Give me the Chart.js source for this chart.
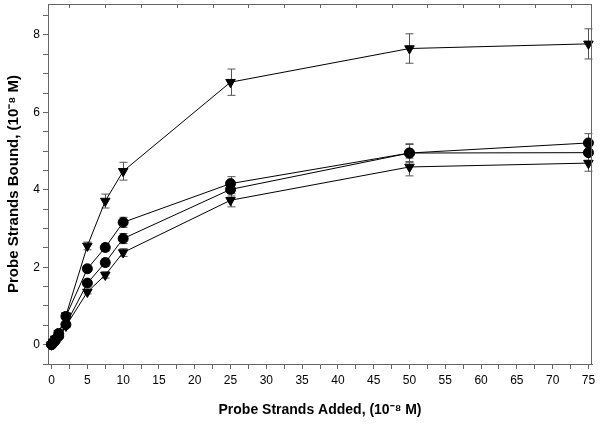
<!DOCTYPE html>
<html>
<head>
<meta charset="utf-8">
<script src="https://cdn.jsdelivr.net/npm/chart.js@4"></script>
<style>
  html, body { margin: 0; padding: 0; background: #fff; }
  #wrap { width: 600px; height: 427px; }
</style>
</head>
<body>
<div id="wrap"><canvas id="myChart" width="600" height="427"></canvas></div>
<script>
// probe strands added (10^-8 M)
var added = [0, 0.25, 0.5, 1, 2, 5, 7.5, 10, 25, 50, 75];

// probe strands bound, four curves
var triTop = [0, 0.07, 0.15, 0.3, 0.75, 2.55, 3.71, 4.48, 6.78, 7.65, 7.77];
var dotTop = [0, 0.06, 0.13, 0.29, 0.73, 1.96, 2.51, 3.16, 4.16, 4.95, 5.21];
var dotLow = [0, 0.05, 0.1, 0.22, 0.52, 1.59, 2.12, 2.74, 4.01, 4.95, 4.96];
var triLow = [0, 0.04, 0.09, 0.2, 0.48, 1.36, 1.80, 2.38, 3.73, 4.59, 4.69];

// error bars (+/-)
var triTopErr = [0, 0, 0, 0, 0.05, 0.1, 0.18, 0.23, 0.34, 0.38, 0.39];
var dotTopErr = [0, 0, 0, 0, 0.03, 0.06, 0.1, 0.13, 0.18, 0.24, 0.24];
var dotLowErr = [0, 0, 0, 0, 0.03, 0.06, 0.1, 0.13, 0.17, 0.22, 0.2];
var triLowErr = [0, 0, 0, 0, 0.03, 0.05, 0.08, 0.1, 0.17, 0.23, 0.21];

var topTicks = [2.5, 7.5, 12.5, 17.5, 22.5, 27.5, 32.5, 37.5, 42.5, 47.5, 52.5, 57.5, 62.5, 67.5, 72.5];

function pts(ys) {
  return added.map(function (x, i) { return { x: x, y: ys[i] }; });
}

function series(ys, errs, shape) {
  return {
    data: pts(ys),
    errs: errs,
    borderColor: '#000',
    borderWidth: 1,
    backgroundColor: '#000',
    pointBackgroundColor: '#000',
    pointBorderColor: '#000',
    pointStyle: shape == 'tri' ? 'triangle' : 'circle',
    rotation: shape == 'tri' ? 180 : 0,
    pointRadius: shape == 'tri' ? 5.5 : 5,
    tension: 0,
    fill: false,
    clip: false
  };
}

var extras = {
  id: 'extras',
  beforeDatasetsDraw: function (chart) {
    var ctx = chart.ctx;
    var xs = chart.scales.x, ys = chart.scales.y;
    ctx.save();
    ctx.strokeStyle = '#555';
    ctx.lineWidth = 1;
    chart.data.datasets.forEach(function (ds) {
      ds.data.forEach(function (p, i) {
        var e = ds.errs[i];
        if (!e) return;
        var px = Math.round(xs.getPixelForValue(p.x)) + 0.5;
        var y1 = ys.getPixelForValue(p.y + e);
        var y2 = ys.getPixelForValue(p.y - e);
        ctx.beginPath();
        ctx.moveTo(px, y1); ctx.lineTo(px, y2);
        ctx.moveTo(px - 4, y1); ctx.lineTo(px + 4, y1);
        ctx.moveTo(px - 4, y2); ctx.lineTo(px + 4, y2);
        ctx.stroke();
      });
    });
    ctx.restore();
  },
  afterDraw: function (chart) {
    var ctx = chart.ctx, a = chart.chartArea;
    var xs = chart.scales.x;
    ctx.save();
    ctx.strokeStyle = '#666';
    ctx.lineWidth = 1;
    ctx.beginPath();
    ctx.moveTo(a.left, a.top + 0.5); ctx.lineTo(a.right, a.top + 0.5);
    ctx.moveTo(a.right - 0.5, a.top); ctx.lineTo(a.right - 0.5, a.bottom);
    topTicks.forEach(function (t) {
      var px = Math.round(xs.getPixelForValue(t)) + 0.5;
      ctx.moveTo(px, a.top); ctx.lineTo(px, a.top + 4);
    });
    ctx.stroke();
    ctx.restore();
  }
};

var ctx = document.getElementById('myChart');

new Chart(ctx, {
  type: 'line',
  data: {
    datasets: [
      series(triTop, triTopErr, 'tri'),
      series(dotTop, dotTopErr, 'dot'),
      series(dotLow, dotLowErr, 'dot'),
      series(triLow, triLowErr, 'tri')
    ]
  },
  options: {
    responsive: false,
    animation: false,
    layout: { autoPadding: false, padding: { top: 4, right: 8, left: 0, bottom: 0 } },
    plugins: { legend: { display: false }, tooltip: { enabled: false } },
    scales: {
      x: {
        type: 'linear',
        min: -0.5,
        max: 75.5,
        afterFit: function (s) { s.height = 63; s.paddingLeft = 0; s.paddingRight = 0; },
        border: { display: true, color: '#666', width: 1 },
        grid: { drawOnChartArea: false, drawTicks: true, tickLength: 5, tickColor: '#666' },
        ticks: {
          stepSize: 2.5,
          includeBounds: false,
          autoSkip: false,
          maxRotation: 0,
          padding: 4,
          color: '#000',
          font: { family: 'Liberation Sans', size: 12 },
          callback: function (v) { return v % 5 == 0 ? v : ''; }
        },
        title: {
          display: true,
          text: 'Probe Strands Added, (10\u207B\u2078 M)',
          color: '#000',
          font: { family: 'Liberation Sans', size: 14, weight: 'bold' },
          padding: { top: 0, bottom: 8 }
        }
      },
      y: {
        type: 'linear',
        min: -0.5,
        max: 8.8,
        afterFit: function (s) { s.width = 48; s.paddingTop = 0; s.paddingBottom = 0; },
        border: { display: true, color: '#666', width: 1 },
        grid: { drawOnChartArea: false, drawTicks: true, tickLength: 5, tickColor: '#666' },
        ticks: {
          stepSize: 0.5,
          includeBounds: false,
          autoSkip: false,
          padding: 3,
          color: '#000',
          font: { family: 'Liberation Sans', size: 12 },
          callback: function (v) { return v % 2 == 0 ? v : ''; }
        },
        title: {
          display: true,
          text: 'Probe Strands Bound, (10\u207B\u2078 M)',
          color: '#000',
          font: { family: 'Liberation Sans', size: 15, weight: 'bold' },
          padding: { top: 5, bottom: 0 }
        }
      }
    }
  },
  plugins: [extras]
});
</script>
</body>
</html>
